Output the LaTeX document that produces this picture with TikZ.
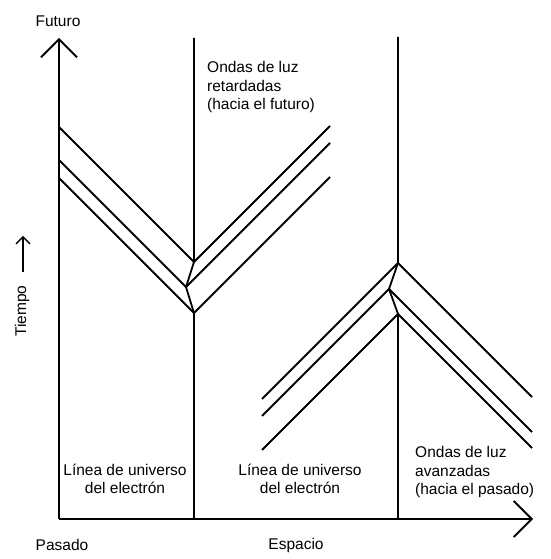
\documentclass[tikz,border=0pt]{standalone}
\usepackage{fontspec}
\setmainfont{Liberation Sans}
\usetikzlibrary{arrows.meta}

\begin{document}
\begin{tikzpicture}[
  x=1pt, y=1pt,
  axis/.style={line width=1.8pt, -{Straight Barb[length=18pt, width=36pt]}},
  tarrow/.style={line width=1.3pt, -{Straight Barb[length=7pt, width=14pt]}},
  wave/.style={line width=1.8pt},
  wline/.style={line width=1.8pt},
  lbl/.style={font=\fontsize{15.5}{18.5}\selectfont, inner sep=0pt, align=center},
  lbll/.style={lbl, align=left, anchor=west}
]
\useasboundingbox (-59,-40) rectangle (491,519);

% axes
\coordinate (origin) at (0,0);
\coordinate (tfut) at (0,481);
\coordinate (xesp) at (474,0);
\draw[axis] (origin) -- (tfut);
\draw[axis] (origin) -- (xesp);

% world lines with their kinks
\coordinate (w1top) at (135,481);
\coordinate (w1bot) at (135,0);
\coordinate (w2top) at (339,482);
\coordinate (w2bot) at (339,0);
\coordinate (k1) at (135,257);
\coordinate (k2) at (127,232);
\coordinate (k3) at (135,206);
\coordinate (m1) at (339,256);
\coordinate (m2) at (330,230);
\coordinate (m3) at (339,205);
\draw[wline] (w1top) -- (k1) -- (k2) -- (k3) -- (w1bot);
\draw[wline] (w2top) -- (m1) -- (m2) -- (m3) -- (w2bot);

% light waves
\coordinate (r1) at (0,392);
\coordinate (r2) at (0,359);
\coordinate (r3) at (0,341);
\coordinate (f1) at (271,393);
\coordinate (f2) at (271,376);
\coordinate (f3) at (271,342);
\coordinate (p1) at (203,120);
\coordinate (p2) at (203,103);
\coordinate (p3) at (203,69);
\coordinate (q1) at (473,122);
\coordinate (q2) at (473,87);
\coordinate (q3) at (473,71);
\foreach \i in {1,2,3} {
  \draw[wave] (r\i) -- (k\i) -- (f\i);
  \draw[wave] (p\i) -- (m\i) -- (q\i);
}

% labels
\node[lbl] (futuro) at (-1,498) {Futuro};
\node[lbl] (pasado) at (3,-26) {Pasado};
\node[lbl] (espacio) at (237,-26) {Espacio};
\node[lbl, rotate=90] (tiempo) at (-37,208) {Tiempo};
\coordinate (tarrs) at (-36,247);
\coordinate (tarre) at (-36,283);
\draw[tarrow] (tarrs) -- (tarre);
\node[lbll] (retard) at (148,432) {Ondas de luz\\retardadas\\(hacia el futuro)};
\node[lbl] (linea1) at (66,40) {Línea de universo\\del electrón};
\node[lbl] (linea2) at (241,40) {Línea de universo\\del electrón};
\node[lbll] (avanz) at (356,47) {Ondas de luz\\avanzadas\\(hacia el pasado)};
\end{tikzpicture}
\end{document}
